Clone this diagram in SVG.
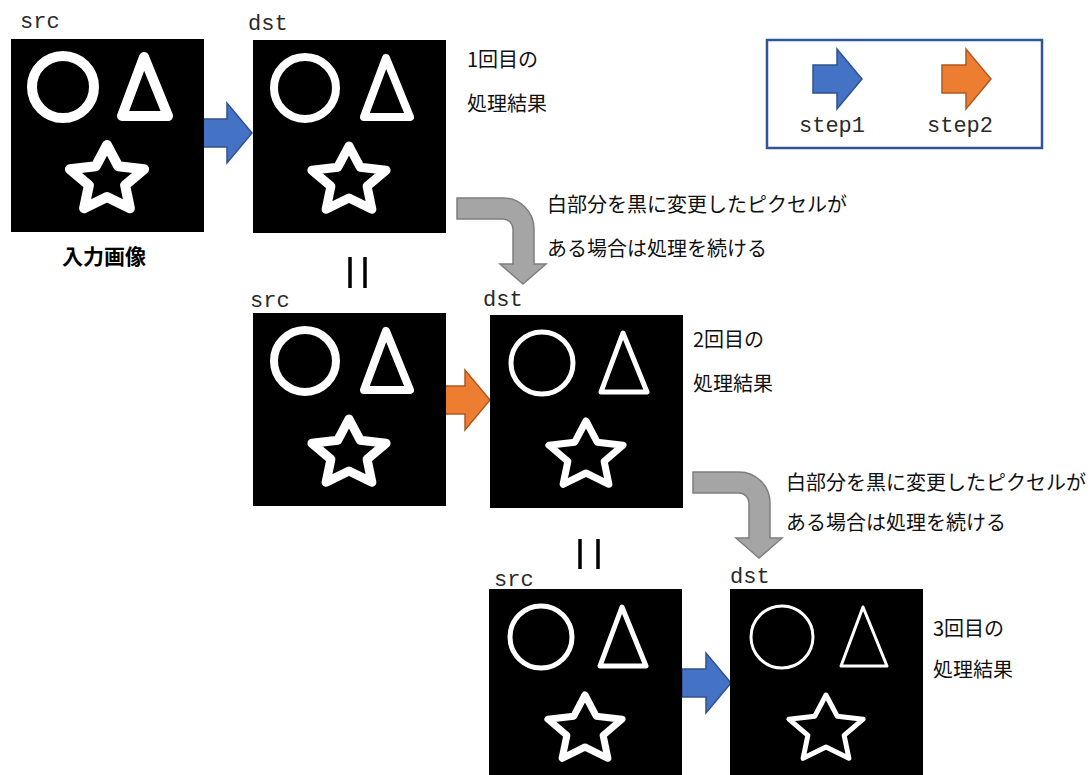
<svg xmlns="http://www.w3.org/2000/svg" xmlns:xlink="http://www.w3.org/1999/xlink" width="1090" height="775" viewBox="0 0 1090 775">
  <style>
    .mono { font-family: "Liberation Mono", "DejaVu Sans Mono", monospace; font-size: 22px; fill: #2a2a2a; }
    .jp { font-family: "Noto Sans CJK JP", "Noto Sans", sans-serif; font-size: 20px; fill: #111111; }
    .jpb { font-family: "Noto Sans CJK JP", "Noto Sans", sans-serif; font-size: 21px; font-weight: bold; fill: #000000; }
    .pic { fill: #000000; }
    .blue { fill: #4472C4; stroke: #2F528F; stroke-width: 1.5; }
    .orange { fill: #ED7D31; stroke: #AE5A21; stroke-width: 1.5; }
    .gray { fill: #A5A5A5; stroke: #7F7F7F; stroke-width: 1.5; }
    .eq { stroke: #000000; stroke-width: 3.5; }
  </style>
  <defs>
    <path id="blockArrow" d="M0,-14 H24 V-30 L49,0 L24,30 V14 H0 Z"/>
    <path id="bentArrow" d="M0,0 H46 A31,31 0 0 1 77,31 V66 H89 L66,86 L43,66 H56 V31 A10,10 0 0 0 46,21 H0 Z"/>
    <g id="shapes" fill="none" stroke="#FFFFFF" stroke-linejoin="round">
      <circle cx="52" cy="48" r="31"/>
      <polygon points="133,18 157,77 111,77"/>
    </g>
    <polygon id="star" fill="none" stroke="#FFFFFF" stroke-linejoin="round" points="96,106 107.2,127.2 133.1,130.2 114.1,146.3 118.9,169.3 96,158 73.1,169.3 77.9,146.3 58.9,130.2 84.8,127.2"/>
  </defs>

  <g id="connectors">
    <use xlink:href="#blockArrow" href="#blockArrow" class="blue" transform="translate(203,133)"/>
    <use xlink:href="#blockArrow" href="#blockArrow" class="orange" transform="translate(441,400)"/>
    <use xlink:href="#blockArrow" href="#blockArrow" class="blue" transform="translate(682,683)"/>
    <use xlink:href="#bentArrow" href="#bentArrow" class="gray" transform="translate(457,198)"/>
    <use xlink:href="#bentArrow" href="#bentArrow" class="gray" transform="translate(693,472)"/>
    <line class="eq" x1="350" y1="257" x2="350" y2="288"/>
    <line class="eq" x1="365" y1="257" x2="365" y2="288"/>
    <line class="eq" x1="580" y1="539" x2="580" y2="569"/>
    <line class="eq" x1="598" y1="539" x2="598" y2="569"/>
  </g>

  <g id="node-src1">
    <text class="mono" x="20" y="28">src</text>
    <rect class="pic" x="11" y="39" width="193" height="193"/>
    <use xlink:href="#shapes" href="#shapes" transform="translate(11,39)" stroke-width="10"/>
    <use xlink:href="#star" href="#star" transform="translate(11,39)" stroke-width="10"/>
    <text class="jpb" x="104" y="264" text-anchor="middle">入力画像</text>
  </g>

  <g id="node-dst1">
    <text class="mono" x="248" y="30">dst</text>
    <rect class="pic" x="253" y="40" width="193" height="193"/>
    <use xlink:href="#shapes" href="#shapes" transform="translate(253,40)" stroke-width="8"/>
    <use xlink:href="#star" href="#star" transform="translate(253,40)" stroke-width="9"/>
    <text class="jp" x="467" y="67">1回目の</text>
    <text class="jp" x="467" y="111">処理結果</text>
  </g>

  <g id="node-src2">
    <text class="mono" x="250" y="307">src</text>
    <rect class="pic" x="253" y="313" width="193" height="193"/>
    <use xlink:href="#shapes" href="#shapes" transform="translate(253,313)" stroke-width="8"/>
    <use xlink:href="#star" href="#star" transform="translate(253,313)" stroke-width="9"/>
  </g>

  <g id="node-dst2">
    <text class="mono" x="483" y="306">dst</text>
    <rect class="pic" x="490" y="315" width="193" height="193"/>
    <use xlink:href="#shapes" href="#shapes" transform="translate(490,315)" stroke-width="5"/>
    <use xlink:href="#star" href="#star" transform="translate(490,315)" stroke-width="7"/>
    <text class="jp" x="693" y="347">2回目の</text>
    <text class="jp" x="693" y="391">処理結果</text>
  </g>

  <g id="node-src3">
    <text class="mono" x="494" y="586">src</text>
    <rect class="pic" x="489" y="589" width="193" height="193"/>
    <use xlink:href="#shapes" href="#shapes" transform="translate(489,589)" stroke-width="5"/>
    <use xlink:href="#star" href="#star" transform="translate(489,589)" stroke-width="7"/>
  </g>

  <g id="node-dst3">
    <text class="mono" x="730" y="583">dst</text>
    <rect class="pic" x="730" y="589" width="193" height="193"/>
    <use xlink:href="#shapes" href="#shapes" transform="translate(730,589)" stroke-width="3"/>
    <use xlink:href="#star" href="#star" transform="translate(730,589)" stroke-width="5"/>
    <text class="jp" x="933" y="636">3回目の</text>
    <text class="jp" x="933" y="677">処理結果</text>
  </g>

  <g id="note1">
    <text class="jp" x="547" y="212">白部分を黒に変更したピクセルが</text>
    <text class="jp" x="547" y="256">ある場合は処理を続ける</text>
  </g>

  <g id="note2">
    <text class="jp" x="786" y="490">白部分を黒に変更したピクセルが</text>
    <text class="jp" x="786" y="530">ある場合は処理を続ける</text>
  </g>

  <g id="legend">
    <rect x="767" y="40" width="275" height="108" fill="#FFFFFF" stroke="#2F5597" stroke-width="2.5"/>
    <use xlink:href="#blockArrow" href="#blockArrow" class="blue" transform="translate(813,79)"/>
    <use xlink:href="#blockArrow" href="#blockArrow" class="orange" transform="translate(942,79)"/>
    <text class="mono" x="799" y="132">step1</text>
    <text class="mono" x="927" y="132">step2</text>
  </g>
</svg>
